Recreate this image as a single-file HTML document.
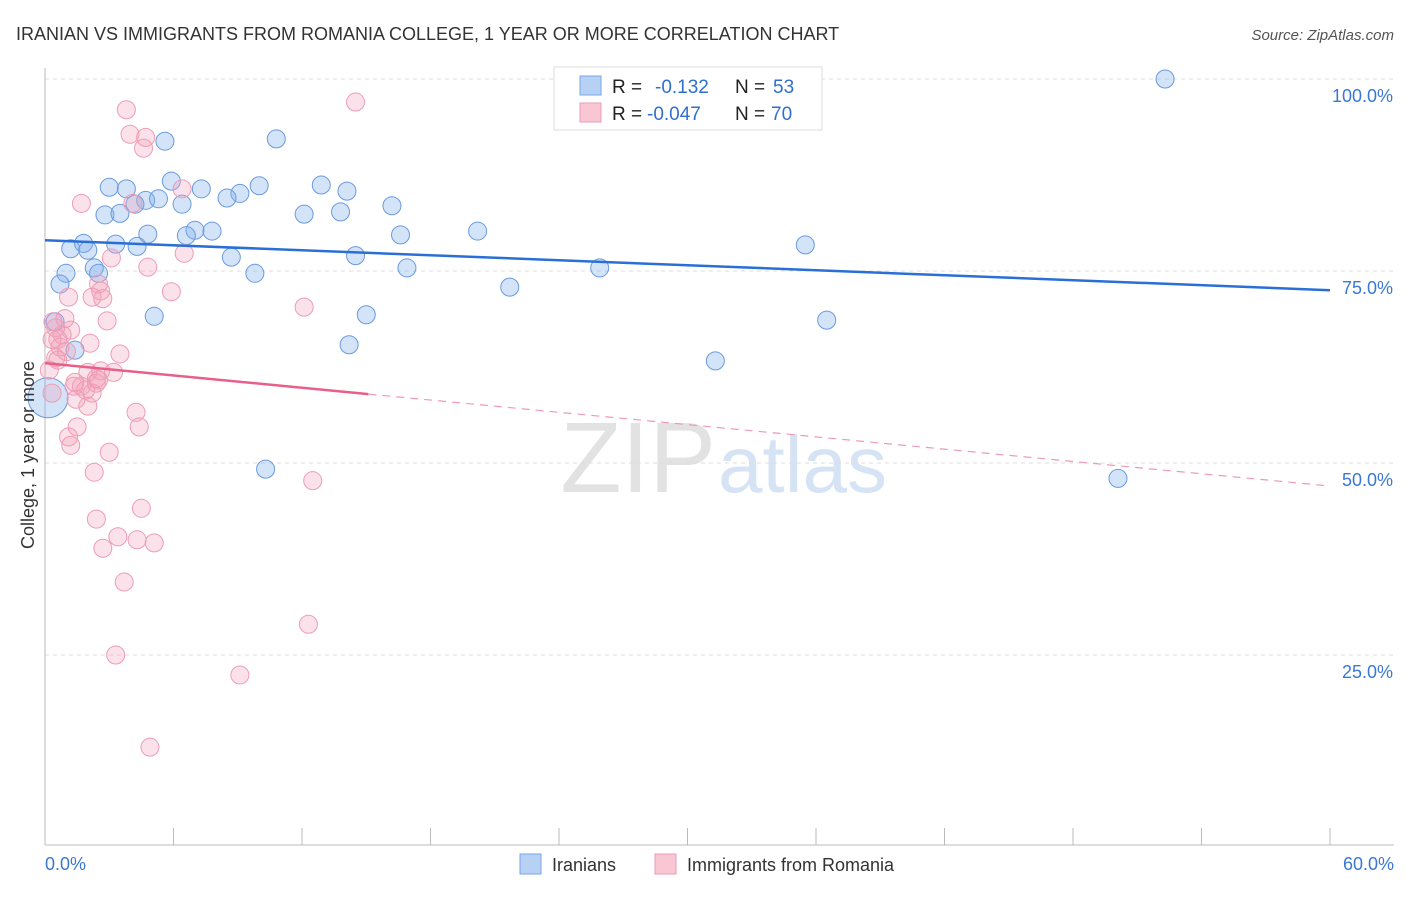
<!DOCTYPE html>
<html><head><meta charset="utf-8"><style>
body{margin:0;background:#fff;font-family:"Liberation Sans",sans-serif;}
svg text{font-family:"Liberation Sans",sans-serif;}
</style></head><body>
<svg id="chart" width="1406" height="892">
<text x="16" y="40" font-size="18" fill="#333">IRANIAN VS IMMIGRANTS FROM ROMANIA COLLEGE, 1 YEAR OR MORE CORRELATION CHART</text>
<text x="1394" y="40" font-size="15" fill="#555" font-style="italic" text-anchor="end">Source: ZipAtlas.com</text>
<text x="716" y="492" font-size="100" fill="#e2e2e2" text-anchor="end" font-family="Liberation Serif">ZIP</text>
<text x="718" y="492" font-size="80" fill="#d6e3f4">atlas</text>
<g id="grid"></g><g id="axes"></g><g id="pts"></g><g id="trend"></g>
<text transform="translate(34,455) rotate(-90)" font-size="18" fill="#333" text-anchor="middle">College, 1 year or more</text>
<g>
<rect x="554" y="67" width="268" height="63" fill="#fff" stroke="#ddd"/>
<rect x="580" y="76" width="21" height="19" fill="#b7d1f5" stroke="#7aa6e6"/>
<rect x="580" y="103" width="21" height="19" fill="#f9c6d4" stroke="#ee9bb4"/>
<text x="612" y="93" font-size="19" fill="#222">R =</text><text x="655" y="93" font-size="19" fill="#2f6fd0">-0.132</text>
<text x="735" y="93" font-size="19" fill="#222">N =</text><text x="773" y="93" font-size="19" fill="#2f6fd0">53</text>
<text x="612" y="120" font-size="19" fill="#222">R =</text><text x="647" y="120" font-size="19" fill="#2f6fd0">-0.047</text>
<text x="735" y="120" font-size="19" fill="#222">N =</text><text x="771" y="120" font-size="19" fill="#2f6fd0">70</text>
</g>
<g><rect x="520" y="854" width="21" height="20" fill="#b7d1f5" stroke="#7aa6e6"/><text x="552" y="871" font-size="18" fill="#333">Iranians</text></g>
<g><rect x="655" y="854" width="21" height="20" fill="#f9c6d4" stroke="#ee9bb4"/><text x="687" y="871" font-size="18" fill="#333">Immigrants from Romania</text></g>
</svg>
<script>
const xTicks=[0,6,12,18,24,30,36,42,48,54,60];
const yTicks=[25,50,75,100];
const yTickLabels=["25.0%","50.0%","75.0%","100.0%"];
const blueX=[52.3,10.8,5.6,3.0,3.8,5.9,7.3,9.1,10.0,12.9,14.1,4.7,5.3,6.4,8.5,4.2,2.8,3.5,12.1,13.8,16.2,4.8,7.0,6.6,7.8,16.6,20.2,1.2,1.8,2.0,3.3,4.3,8.7,14.5,35.5,0.98,2.3,2.5,9.8,16.9,25.9,0.7,21.7,5.1,15.0,36.5,0.47,14.2,1.4,31.3,0.14,10.3,50.1];
const blueY=[100,92.2,91.9,85.9,85.7,86.7,85.7,85.1,86.1,86.2,85.4,84.2,84.4,83.7,84.5,83.7,82.3,82.5,82.4,82.7,83.5,79.8,80.3,79.6,80.2,79.7,80.2,77.9,78.6,77.7,78.5,78.2,76.8,77.0,78.4,74.7,75.4,74.7,74.7,75.4,75.4,73.3,72.9,69.1,69.3,68.6,68.4,65.4,64.7,63.3,58.5,49.2,48.0];
const pinkX=[3.8,14.5,3.97,4.7,4.6,6.4,1.7,4.1,3.1,4.8,6.5,5.9,2.5,2.6,1.1,2.2,2.7,12.1,2.9,0.93,0.37,1.2,0.8,0.6,0.33,2.1,1.0,0.5,3.5,0.2,2.0,2.6,3.2,1.4,2.4,1.35,1.7,2.5,1.9,2.2,0.33,1.45,2.0,4.25,1.5,4.4,1.1,1.2,3.0,2.3,12.5,4.5,2.4,3.4,4.3,5.1,2.7,3.7,12.3,3.3,9.1,4.9,2.4,0.6,0.5,0.7];
const pinkY=[96.0,97.0,92.8,92.4,91.0,85.7,83.8,83.8,76.7,75.5,77.3,72.3,73.3,72.4,71.6,71.6,71.4,70.3,68.5,68.8,68.4,67.3,66.7,66.1,66.1,65.6,64.5,63.7,64.2,62.1,61.8,62.0,61.8,60.5,60.4,60.0,60.0,60.8,59.5,59.1,59.1,58.3,57.4,56.6,54.7,54.7,53.4,52.3,51.4,48.8,47.7,44.1,42.7,40.4,40.0,39.6,38.9,34.5,29.0,25.0,22.4,13.0,61.0,63.4,67.6,65.1];
const blueTrend=[79.0,72.5];
const pinkTrend=[63.0,47.0];
const pinkSolidEnd=15.1;
const X=v=>45+v/60*1285, Y=v=>847-v/100*768;
const NS="http://www.w3.org/2000/svg";
function mk(parent,tag,attrs){const e=document.createElementNS(NS,tag);for(const k in attrs)e.setAttribute(k,attrs[k]);document.getElementById(parent).appendChild(e);return e;}
yTicks.forEach((t,i)=>{
 const g=mk('grid','line',{x1:45,x2:1394,y1:Y(t),y2:Y(t),stroke:'#ddd','stroke-dasharray':'4,4'});
 
 
 const l=mk('grid','text',{x:1393,y:Y(t)+23,'font-size':18,fill:'#3a78d4','text-anchor':'end'});l.textContent=yTickLabels[i];
 
 
});
const ax=mk('axes','line',{x1:45,x2:45,y1:68,y2:845,stroke:'#bbb'});


const bx=mk('axes','line',{x1:45,x2:1394,y1:845,y2:845,stroke:'#bbb'});


xTicks.forEach(t=>{const k=mk('axes','line',{x1:X(t),x2:X(t),y1:828,y2:845,stroke:'#bbb'});
 
 });
const xl0=mk('axes','text',{x:45,y:870,'font-size':18,fill:'#3a78d4'});xl0.textContent=xTicks[0].toFixed(1)+'%';


const xl1=mk('axes','text',{x:1394,y:870,'font-size':18,fill:'#3a78d4','text-anchor':'end'});xl1.textContent=xTicks[xTicks.length-1].toFixed(1)+'%';


blueX.forEach((x,i)=>{const r=(i===50)?20:9;
 const c=mk('pts','circle',{cx:X(x),cy:Y(blueY[i]),r:r,fill:'rgba(130,175,235,0.35)',stroke:'#6a9ae0','stroke-width':1});
 
 });
pinkX.forEach((x,i)=>{
 const c=mk('pts','circle',{cx:X(x),cy:Y(pinkY[i]),r:9,fill:'rgba(242,160,185,0.3)',stroke:'#ee9cb5','stroke-width':1});
 
 });
const bt=mk('trend','line',{x1:X(0),y1:Y(blueTrend[0]),x2:X(60),y2:Y(blueTrend[1]),stroke:'#2a6fd6','stroke-width':2.5});


const pm=pinkTrend[0]+(pinkTrend[1]-pinkTrend[0])*pinkSolidEnd/60;
const ps=mk('trend','line',{x1:X(0),y1:Y(pinkTrend[0]),x2:X(pinkSolidEnd),y2:Y(pm),stroke:'#e8608a','stroke-width':2.5});


const pd=mk('trend','line',{x1:X(pinkSolidEnd),y1:Y(pm),x2:X(60),y2:Y(pinkTrend[1]),stroke:'#ef9ab3','stroke-width':1.2,'stroke-dasharray':'8,6'});


</script>
</body></html>
